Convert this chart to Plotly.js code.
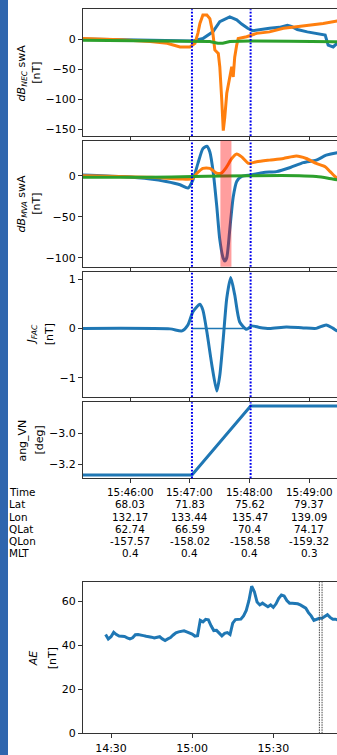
<!DOCTYPE html>
<html>
<head>
<meta charset="utf-8">
<script src="https://cdn.plot.ly/plotly-3.0.1.min.js"></script>
<style>
  html, body { margin: 0; padding: 0; background: #fff; overflow: hidden; }
  #chart { position: absolute; left: 0; top: 0; width: 380px; height: 755px; }
  #strip { position: absolute; left: 0; top: 0; width: 7.5px; height: 755px; background: #2f66ae; }
</style>
</head>
<body>
<div id="chart"></div>
<div id="strip"></div>
<script>
// ---- Swarm A pass, 15:45 - 15:50 UT ----
const DAY = '2016-01-01';

// event window (FAC interval) and the sub-interval of the main dip
const eventWindow = ['15:47:02', '15:48:01'];
const dipWindow = ['15:47:30.6', '15:47:41.7'];

// dB in NEC frame
const necBlueT = ['15:45:12','15:45:50','15:46:20','15:46:40','15:47:00','15:47:03','15:47:13','15:47:23','15:47:30','15:47:35','15:47:40','15:47:43','15:47:47','15:47:52','15:47:58','15:48:03','15:48:10','15:48:20','15:48:30','15:48:38','15:48:42','15:48:48','15:48:58','15:49:08','15:49:16','15:49:19','15:49:24','15:49:28','15:49:36','15:49:47'];
const necBlue  = [0,-1,-2,-2,-3,-3,1,12,29,33,37,35,32,25,18,14,16,18,19.5,23,21,16,12,9.5,6.7,-10,-13,-7,0,5];

const necOrangeT = ['15:45:12','15:45:50','15:46:20','15:46:37','15:46:50','15:47:00','15:47:05','15:47:08','15:47:10','15:47:13','15:47:17','15:47:20','15:47:23','15:47:25','15:47:28.5','15:47:30','15:47:32','15:47:33.5','15:47:35','15:47:37','15:47:39.5','15:47:42','15:47:43.5','15:47:45','15:47:47','15:47:48.5','15:47:57','15:48:07','15:48:20','15:48:34','15:48:47','15:49:01','15:49:14','15:49:28','15:49:47'];
const necOrange  = [1,-1,-4,-7,-13,-13,-7,10,26,40,40,34,10,-18,-24,-46,-102,-152,-130,-90,-68,-46,-63,-30,-10,1,4,9.5,12,18,20.5,23,26,30,32];

const necGreenT = ['15:45:12','15:46:20','15:47:03','15:47:20','15:47:28','15:47:33','15:47:40','15:48:00','15:48:40','15:49:10','15:49:28','15:49:47'];
const necGreen  = [-2,-2.5,-3,-4,-7,-7,-4,-3,-3.5,-4,-5,-5];

// dB in MVA frame
const mvaBlueT = ['15:45:12','15:45:50','15:46:20','15:46:36','15:46:50','15:46:58','15:47:03','15:47:08','15:47:13','15:47:17','15:47:20','15:47:23.5','15:47:27','15:47:30','15:47:33.5','15:47:35','15:47:37','15:47:40','15:47:43.5','15:47:47','15:47:52','15:48:02','15:48:14','15:48:27','15:48:41','15:48:54','15:49:07','15:49:17','15:49:28','15:49:47'];
const mvaBlue  = [1,-1,-4,-7,-11,-15,-5,15,33,36,29,3,-38,-78,-101,-104,-100,-66,-26,-7,-1,1,4,5,10,16,19,25,28,30];

const mvaOrangeT = ['15:45:12','15:46:20','15:46:50','15:47:02','15:47:07','15:47:13','15:47:20','15:47:27','15:47:32','15:47:37','15:47:42','15:47:47','15:47:52','15:47:59','15:48:07','15:48:20','15:48:34','15:48:47','15:48:57','15:49:07','15:49:16','15:49:21','15:49:28','15:49:47'];
const mvaOrange  = [0,-2,-4,-4,3,9,9,3,3.5,11,21,26.5,23,15,17,19,21,24,21,15,11,5,-3,-6];

const mvaGreenT = ['15:45:12','15:46:20','15:47:03','15:48:00','15:48:50','15:49:07','15:49:19','15:49:28','15:49:47'];
const mvaGreen  = [-2,-2,-1,0,0,-1,-3,-5,-6];

// field-aligned current
const facT = ['15:45:12','15:46:40','15:46:52','15:46:58','15:47:03','15:47:10','15:47:13','15:47:17','15:47:22','15:47:27','15:47:30','15:47:33.5','15:47:37','15:47:41','15:47:45','15:47:50','15:47:57','15:48:02','15:48:10','15:48:20','15:48:37','15:48:54','15:49:07','15:49:17','15:49:24','15:49:28','15:49:47'];
const fac  = [0,-0.01,-0.05,0.07,0.34,0.49,0.37,-0.07,-0.74,-1.27,-0.95,-0.2,0.61,1.03,0.68,0.13,-0.02,0.05,0.02,0,0.03,0.01,0,0.07,0,-0.05,-0.05];
const facBaseline = [0, 0];

// angle between velocity and normal
const angT = ['15:45:12','15:47:02','15:48:01','15:49:47'];
const ang  = [-3.271,-3.271,-2.826,-2.826];

// orbit table under the panels
const tableTimes = ['15:46:00','15:47:00','15:48:00','15:49:00'];
const rowNames = ['Time','Lat','Lon','QLat','QLon','MLT'];
const latRow  = ['68.03','71.83','75.62','79.37'];
const lonRow  = ['132.17','133.44','135.47','139.09'];
const qlatRow = ['62.74','66.59','70.4','74.17'];
const qlonRow = ['-157.57','-158.02','-158.58','-159.32'];
const mltRow  = ['0.4','0.4','0.4','0.3'];

// AE index, 1-minute values
const aeStart = '14:28';
const ae = [45,43,44,46,45,44.3,44.2,44.1,43.5,43,43.5,44.9,45,44.9,44.5,44.2,44.1,43.8,43.4,43.6,
            44,43,42.3,43,43.6,44.8,45.8,46.2,46.5,46.7,46.2,45.8,45.2,44.3,44.5,51.5,50.8,51.9,51.7,49,
            46.8,46.9,45.5,44.4,45.5,45.9,45,50.2,51.8,52,52,53.5,56,60.5,67,64.5,59.8,58.5,59.3,58.5,
            57.7,58.5,57.4,59,61.5,63,62.6,60.5,59.3,59.3,59.2,59,58.5,57.8,57,55,53.5,51.4,52,52.4,
            52.4,53.2,54,52.8,52,52,51.5,51];
const aeTicks = ['14:30', '15:00', '15:30'];

// ---- helpers ----
const T = s => DAY + ' ' + s;
const Ts = arr => arr.map(T);
function minuteSeries(start, n) {
  const [h, m] = start.split(':').map(Number);
  const out = [];
  for (let i = 0; i < n; i++) {
    const tot = h * 60 + m + i;
    out.push(T(String(Math.floor(tot / 60)).padStart(2, '0') + ':' + String(tot % 60).padStart(2, '0') + ':00'));
  }
  return out;
}

const C_BLUE = '#1f77b4', C_ORANGE = '#ff7f0e', C_GREEN = '#2ca02c';
const LW = 3;

function line(x, y, color, xa, ya, shape) {
  return { x: x, y: y, type: 'scatter', mode: 'lines', xaxis: xa, yaxis: ya,
           line: { color: color, width: LW, shape: shape || 'linear', smoothing: 0.6 },
           hoverinfo: 'skip' };
}

const traces = [
  line(Ts(necBlueT), necBlue, C_BLUE, 'x', 'y'),
  line(Ts(necOrangeT), necOrange, C_ORANGE, 'x', 'y'),
  line(Ts(necGreenT), necGreen, C_GREEN, 'x', 'y'),
  line(Ts(mvaBlueT), mvaBlue, C_BLUE, 'x2', 'y2', 'spline'),
  line(Ts(mvaOrangeT), mvaOrange, C_ORANGE, 'x2', 'y2', 'spline'),
  line(Ts(mvaGreenT), mvaGreen, C_GREEN, 'x2', 'y2', 'spline'),
  line(Ts(facT), fac, C_BLUE, 'x3', 'y3', 'spline'),
  { x: Ts(eventWindow), y: facBaseline, type: 'scatter', mode: 'lines', xaxis: 'x3', yaxis: 'y3',
    line: { color: C_BLUE, width: 1.5 }, hoverinfo: 'skip' },
  line(Ts(angT), ang, C_BLUE, 'x4', 'y4'),
  line(minuteSeries(aeStart, ae.length), ae, C_BLUE, 'x5', 'y5')
];

// ---- geometry (pixels -> paper) ----
const W = 380, H = 755, ML = 83, MR = 24;
const PW = W - ML - MR;
const px = v => (v - ML) / PW;
const py = v => 1 - v / H;
const dom = (top, bottom) => [py(bottom), py(top)];

const AX = '#333';
const FONT = 'DejaVu Sans';
const baseX = {
  type: 'date', showgrid: false, zeroline: false, showline: true, linecolor: AX, linewidth: 1,
  mirror: true, ticks: 'outside', ticklen: 4, tickwidth: 1, tickcolor: AX, fixedrange: true
};
const mainX = Object.assign({}, baseX, {
  range: [T('15:45:12.4'), T('15:49:47')], tick0: T('15:46:00'), dtick: 60000, showticklabels: false
});
const baseY = {
  showgrid: false, zeroline: false, showline: true, linecolor: AX, linewidth: 1, mirror: true,
  ticks: 'outside', ticklen: 4, tickwidth: 1, tickcolor: AX, fixedrange: true,
  tickfont: { family: FONT, size: 11, color: '#000' }
};

const layout = {
  width: W, height: H, margin: { l: ML, r: MR, t: 0, b: 0 },
  paper_bgcolor: '#fff', plot_bgcolor: '#fff', showlegend: false,
  font: { family: FONT, size: 11, color: '#000' },
  xaxis:  Object.assign({}, mainX, { anchor: 'y' }),
  xaxis2: Object.assign({}, mainX, { anchor: 'y2', matches: 'x' }),
  xaxis3: Object.assign({}, mainX, { anchor: 'y3', matches: 'x' }),
  xaxis4: Object.assign({}, mainX, { anchor: 'y4', matches: 'x' }),
  xaxis5: Object.assign({}, baseX, {
    anchor: 'y5', range: [T('14:19:39'), T('16:00:34')], tickmode: 'array',
    tickvals: Ts(aeTicks), ticktext: aeTicks,
    tickfont: { family: FONT, size: 11, color: '#000' }
  }),
  yaxis:  Object.assign({}, baseY, { anchor: 'x',  domain: dom(9.3, 136),   range: [-161, 49.5],   tickvals: [-150, -100, -50, 0] }),
  yaxis2: Object.assign({}, baseY, { anchor: 'x2', domain: dom(140.7, 266.7), range: [-111, 42.7], tickvals: [-100, -50, 0] }),
  yaxis3: Object.assign({}, baseY, { anchor: 'x3', domain: dom(272.3, 397),  range: [-1.39, 1.136], tickvals: [-1, 0, 1] }),
  yaxis4: Object.assign({}, baseY, { anchor: 'x4', domain: dom(402.3, 478.3), range: [-3.292, -2.802], tickvals: [-3.2, -3.0], tickformat: '.1f' }),
  yaxis5: Object.assign({}, baseY, { anchor: 'x5', domain: dom(582.3, 733.3), range: [0, 68.8], tickvals: [0, 20, 40, 60] }),
  shapes: [],
  annotations: []
};

// event window markers on the four satellite panels
['y', 'y2', 'y3', 'y4'].forEach(ya => {
  eventWindow.forEach(t => {
    layout.shapes.push({ type: 'line', xref: 'x', yref: ya + ' domain', x0: T(t), x1: T(t), y0: 0, y1: 1,
      line: { color: '#0000ee', width: 2, dash: '1.8px,1.6px' }, layer: 'above' });
  });
});
// highlighted dip interval
layout.shapes.push({ type: 'rect', xref: 'x2', yref: 'y2 domain', x0: T(dipWindow[0]), x1: T(dipWindow[1]),
  y0: 0, y1: 1, fillcolor: 'rgba(255,0,0,0.38)', line: { width: 0 }, layer: 'above' });
// event window on the AE panel
eventWindow.forEach(t => {
  layout.shapes.push({ type: 'line', xref: 'x5', yref: 'y5 domain', x0: T(t), x1: T(t), y0: 0, y1: 1,
    line: { color: '#444', width: 1, dash: '1.5px,1px' }, layer: 'above' });
});

// axis labels
function ylab(text, xPix, yPix) {
  layout.annotations.push({ text: text, xref: 'paper', yref: 'paper', x: px(xPix), y: py(yPix),
    xanchor: 'center', yanchor: 'middle', textangle: -90, showarrow: false, borderpad: 0,
    font: { family: FONT, size: 11, color: '#000' } });
}
ylab('<i>dB</i><sub><i>NEC</i></sub> swA', 21.7, 72.7);
ylab('[nT]', 37, 72.7);
ylab('<i>dB</i><sub><i>MVA</i></sub> swA', 21.7, 203.7);
ylab('[nT]', 37, 203.7);
ylab('<i>J</i><sub><i>FAC</i></sub>', 31.7, 334.7);
ylab('[nT]', 49.5, 334.7);
ylab('ang_VN', 22.3, 440.3);
ylab('[deg]', 39.3, 440.3);
ylab('<i>AE</i>', 33.3, 658);
ylab('[nT]', 52.3, 658);

// orbit table
const TABLE_FONT = 10.4;
const rows = [tableTimes, latRow, lonRow, qlatRow, qlonRow, mltRow];
const rowY = [492.3, 504.4, 516.5, 528.6, 540.7, 552.8];
rowNames.forEach((name, i) => {
  layout.annotations.push({ text: name, xref: 'paper', yref: 'paper', x: px(8.3), y: py(rowY[i]),
    xanchor: 'left', yanchor: 'middle', showarrow: false, borderpad: 0,
    font: { family: FONT, size: TABLE_FONT, color: '#000' } });
  rows[i].forEach((val, j) => {
    layout.annotations.push({ text: val, xref: 'x', yref: 'paper', x: T(tableTimes[j]), y: py(rowY[i]),
      xanchor: 'center', yanchor: 'middle', showarrow: false, borderpad: 0,
      font: { family: FONT, size: TABLE_FONT, color: '#000' } });
  });
});

Plotly.newPlot('chart', traces, layout, { staticPlot: true, displayModeBar: false });
</script>
</body>
</html>
